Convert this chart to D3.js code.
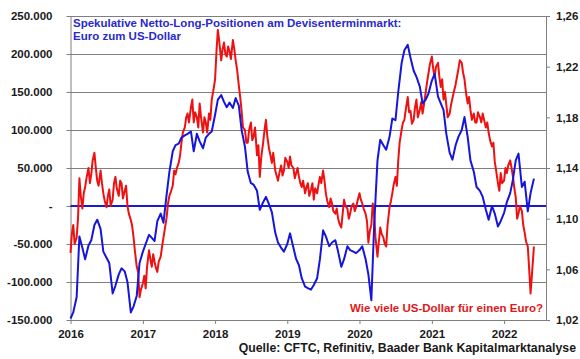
<!DOCTYPE html>
<html><head><meta charset="utf-8">
<script src="https://cdn.jsdelivr.net/npm/d3@7"></script>
<style>
html,body{margin:0;padding:0;background:#fff;}
svg{display:block;font-family:"Liberation Sans",Arial,sans-serif;font-weight:bold;}
</style></head>
<body><svg id="c" width="580" height="359"></svg>
<script>
// ---- data ----
const startDate = "2016-01-01";
// CFTC net long positions, in thousand contracts (semi-monthly: 1st and 15th of each month)
const cftcNetLong = [
-148,-140,-120,-40,-55,-70,-52,-45,-25,-18,-30,-60,-68,-75,-115,-105,-90,-82,-86,-100,
-140,-132,-118,-75,-60,-50,-38,-42,-46,-20,-10,-22,15,45,72,80,82,90,93,95,
98,72,95,85,76,90,95,98,120,140,146,137,130,136,129,142,132,100,78,45,
30,28,20,-5,5,12,2,-8,-35,-48,-55,-60,-50,-36,-55,-70,-78,-95,-106,-108,
-110,-104,-95,-70,-32,-40,-53,-48,-45,-60,-80,-70,-53,-58,-60,-62,-58,-53,-70,-90,
-124,-27,60,87,80,74,91,115,113,150,188,205,212,195,178,170,157,135,140,148,
165,174,144,135,126,95,70,61,80,91,100,117,91,60,45,25,20,12,-5,-18,
0,-10,-27,-20,-9,5,17,35,60,69,25,32,-7,17,36
];
// EUR/USD (weekly: 1st, 8th, 15th, 22nd of each month)
const eurUsd = [
1.073,1.088,1.095,1.080,1.085,1.100,1.132,1.118,1.108,1.120,1.125,1.132,1.140,1.128,1.135,1.146,1.152,1.140,1.130,1.126,
1.138,1.128,1.120,1.114,1.109,1.118,1.123,1.110,1.115,1.128,1.133,1.124,1.118,1.130,1.128,1.116,1.122,1.126,1.110,1.104,
1.099,1.094,1.085,1.074,1.062,1.058,1.038,1.044,1.049,1.055,1.045,1.062,1.075,1.068,1.062,1.072,1.066,1.061,1.058,1.066,
1.070,1.078,1.085,1.092,1.101,1.112,1.118,1.121,1.126,1.138,1.135,1.140,1.144,1.150,1.160,1.168,1.172,1.180,1.183,1.176,
1.188,1.194,1.176,1.184,1.180,1.172,1.191,1.180,1.168,1.180,1.176,1.168,1.183,1.178,1.194,1.200,1.210,1.232,1.249,1.240,
1.225,1.234,1.239,1.230,1.228,1.236,1.232,1.226,1.241,1.234,1.225,1.218,1.205,1.196,1.185,1.172,1.170,1.160,1.160,1.170,
1.176,1.162,1.165,1.172,1.150,1.158,1.133,1.148,1.160,1.170,1.178,1.165,1.155,1.150,1.144,1.152,1.138,1.134,1.130,1.136,
1.142,1.134,1.138,1.148,1.145,1.140,1.149,1.142,1.140,1.132,1.136,1.140,1.133,1.128,1.125,1.130,1.120,1.125,1.128,1.118,
1.123,1.128,1.115,1.124,1.120,1.127,1.133,1.128,1.138,1.130,1.120,1.114,1.109,1.116,1.112,1.106,1.104,1.108,1.100,1.096,
1.093,1.104,1.115,1.110,1.108,1.100,1.104,1.110,1.112,1.106,1.109,1.114,1.120,1.115,1.112,1.108,1.104,1.098,1.081,1.090,
1.095,1.112,1.104,1.085,1.070,1.082,1.093,1.088,1.085,1.080,1.078,1.095,1.109,1.114,1.120,1.127,1.133,1.126,1.146,1.160,
1.170,1.176,1.178,1.186,1.196,1.184,1.185,1.175,1.178,1.188,1.194,1.180,1.186,1.192,1.183,1.190,1.200,1.208,1.215,1.222,
1.228,1.218,1.212,1.220,1.223,1.212,1.204,1.210,1.194,1.200,1.190,1.180,1.183,1.190,1.195,1.200,1.206,1.212,1.218,1.225,
1.223,1.215,1.210,1.200,1.191,1.196,1.186,1.178,1.183,1.176,1.176,1.184,1.180,1.176,1.183,1.178,1.172,1.176,1.168,1.162,
1.157,1.160,1.145,1.138,1.128,1.122,1.136,1.128,1.130,1.140,1.136,1.142,1.146,1.140,1.133,1.124,1.117,1.100,1.104,1.110,
1.106,1.095,1.089,1.082,1.078,1.060,1.041,1.056,1.078
];
const leftTicks = [-150000,-100000,-50000,0,50000,100000,150000,200000,250000];
const leftTickLabels = ["-150.000","-100.000","-50.000","-","50.000","100.000","150.000","200.000","250.000"];
const rightTicks = [1.02,1.06,1.10,1.14,1.18,1.22,1.26];
const rightTickLabels = ["1,02","1,06","1,10","1,14","1,18","1,22","1,26"];
const yearTicks = ["2016","2017","2018","2019","2020","2021","2022"];
const titleLines = ["Spekulative Netto-Long-Positionen am Devisenterminmarkt:","Euro zum US-Dollar"];
const redLabel = "Wie viele US-Dollar für einen Euro?";
const sourceText = "Quelle: CFTC, Refinitiv, Baader Bank Kapitalmarktanalyse";

// ---- observation dates ----
const parse = d3.timeParse("%Y-%m-%d");
const d0 = parse(startDate);
const semiMonthDates = cftcNetLong.map((_, i) =>
  d3.timeDay.offset(d3.timeMonth.offset(d0, Math.floor(i / 2)), (i % 2) * 14));
const weekDates = eurUsd.map((_, j) =>
  d3.timeDay.offset(d3.timeMonth.offset(d0, Math.floor(j / 4)), (j % 4) * 7));

// ---- layout ----
const svg = d3.select("#c");
const L = 70.5, R = 546, T = 16, B = 320;
const x = d3.scaleTime().domain([parse("2016-01-01"), parse("2022-08-01")]).range([L, R]);
const yL = d3.scaleLinear().domain([-150000, 250000]).range([B, T]);
const yR = d3.scaleLinear().domain([1.02, 1.26]).range([B, T]);

const gridColor = "#7f7f7f";
const textColor = "#1a1a1a";
const fontFam = "Liberation Sans, Arial, sans-serif";

// gridlines
svg.append("g").selectAll("line").data(leftTicks).join("line")
  .attr("x1", L - 4).attr("x2", R)
  .attr("y1", d => Math.round(yL(d)) + 0.5).attr("y2", d => Math.round(yL(d)) + 0.5)
  .attr("stroke", gridColor).attr("stroke-width", 1);

// left axis
const axL = svg.append("g").attr("transform", `translate(${L},0)`)
  .call(d3.axisLeft(yL).tickValues(leftTicks).tickFormat((d, i) => leftTickLabels[i]).tickSize(0).tickPadding(18));
axL.select(".domain").attr("stroke", gridColor);
axL.selectAll("text").attr("font-size", 11.5).attr("fill", textColor).attr("font-family", fontFam).attr("font-weight", "bold");

// right axis
const axR = svg.append("g").attr("transform", `translate(${R},0)`)
  .call(d3.axisRight(yR).tickValues(rightTicks).tickFormat((d, i) => rightTickLabels[i]).tickSize(4).tickPadding(6));
axR.select(".domain").attr("stroke", gridColor);
axR.selectAll(".tick line").attr("stroke", gridColor);
axR.selectAll("text").attr("font-size", 11.5).attr("fill", textColor).attr("font-family", fontFam).attr("font-weight", "bold");

// bottom axis
const yearDates = yearTicks.map(y => parse(y + "-01-01"));
const axB = svg.append("g").attr("transform", `translate(0,${B})`)
  .call(d3.axisBottom(x).tickValues(yearDates).tickFormat((d, i) => yearTicks[i]).tickSize(4).tickPadding(6));
axB.select(".domain").attr("stroke", gridColor).attr("d", `M${L},0.5H${R}`);
axB.selectAll(".tick line").attr("stroke", gridColor);
axB.selectAll("text").attr("font-size", 11.5).attr("fill", textColor).attr("font-family", fontFam).attr("font-weight", "bold");

// zero line
svg.append("line").attr("x1", L).attr("x2", R).attr("y1", yL(0)).attr("y2", yL(0))
  .attr("stroke", "#1a1ad0").attr("stroke-width", 2);

// red EUR/USD
svg.append("path").datum(eurUsd)
  .attr("fill", "none").attr("stroke", "#ee1111").attr("stroke-width", 2).attr("stroke-linejoin", "round")
  .attr("d", d3.line().x((d, j) => x(weekDates[j])).y(d => yR(d)));

// blue CFTC
svg.append("path").datum(cftcNetLong)
  .attr("fill", "none").attr("stroke", "#1515dd").attr("stroke-width", 2).attr("stroke-linejoin", "round")
  .attr("d", d3.line().x((d, i) => x(semiMonthDates[i])).y(d => yL(d * 1000)));

// title
svg.append("text").attr("x", 73).attr("y", 27).attr("fill", "#2a2acc").attr("font-size", 11.5)
  .selectAll("tspan").data(titleLines).join("tspan")
  .attr("x", 73).attr("dy", (d, i) => i ? 13 : 0).text(d => d);

// red label
svg.append("text").attr("x", 543).attr("y", 312).attr("text-anchor", "end")
  .attr("fill", "#e01818").attr("font-size", 11.5).text(redLabel);

// source
svg.append("text").attr("x", 576).attr("y", 352).attr("text-anchor", "end")
  .attr("fill", textColor).attr("font-size", 12.3).text(sourceText);
</script></body></html>
